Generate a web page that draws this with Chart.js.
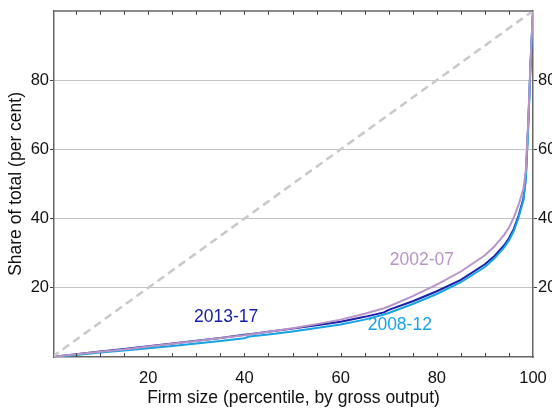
<!DOCTYPE html>
<html>
<head>
<meta charset="utf-8">
<script src="https://cdn.jsdelivr.net/npm/chart.js@4.4.1/dist/chart.umd.min.js"></script>
<style>
  html, body { margin: 0; padding: 0; overflow: hidden; background: #fff; }
  #wrap { width: 552px; height: 412px; overflow: hidden; }
  canvas { display: block; }
</style>
</head>
<body>
<div id="wrap"><canvas id="chart" width="568" height="412"></canvas></div>
<script>
// Data: share of total gross output held by firms up to each percentile
const percentiles = [0, 5, 10, 15, 20, 25, 30, 35, 40, 41, 45, 50, 55, 60, 65, 69, 70, 75, 80, 85, 90, 92, 94, 95, 96, 97, 98, 98.5, 99, 99.5, 100];
const share0207 = [0, 0.8, 1.5, 2.2, 3.0, 3.8, 4.6, 5.5, 6.3, 6.5, 7.3, 8.3, 9.5, 10.8, 12.5, 14.1, 14.6, 17.6, 20.9, 24.7, 29.4, 32.0, 35.3, 37.4, 40.3, 44.0, 48.5, 54, 68, 86, 100];
const share0812 = [0, 0.6, 1.3, 1.9, 2.5, 3.2, 3.9, 4.6, 5.4, 5.9, 6.5, 7.4, 8.4, 9.4, 10.8, 12.3, 12.7, 15.3, 18.2, 21.6, 26.0, 28.5, 31.7, 33.7, 36.4, 40.3, 45.3, 51, 66, 85, 100];
const share1317 = [0, 0.8, 1.6, 2.3, 3.1, 3.9, 4.7, 5.5, 6.4, 6.6, 7.3, 8.2, 9.2, 10.2, 11.6, 12.9, 13.6, 16.1, 19.0, 22.3, 26.8, 29.2, 32.3, 34.3, 37.0, 40.8, 45.8, 52, 67, 85, 100];
const equalX = [0, 100];
const equalY = [0, 100];

const seriesNames = ['2002-07', '2008-12', '2013-17'];
const xTickValues = [20, 40, 60, 80, 100];
const yTickValues = [20, 40, 60, 80];

const FONT = '"Liberation Sans", Arial, sans-serif';
const colours = { '2002-07': '#b795c7', '2008-12': '#17a3e3', '2013-17': '#1a21a6' };

function toPoints(xs, ys) {
    return xs.map((x, i) => ({ x: x, y: ys[i] }));
}

// where the series names sit, in data units
const lineLabels = [
    { text: '2002-07', x: 76.9, y: 28.0 },
    { text: '2008-12', x: 72.3, y: 9.1 },
    { text: '2013-17', x: 36.2, y: 11.6 }
];

const framePlugin = {
    id: 'frame',
    afterDatasetsDraw(chart) {
        const ctx = chart.ctx;
        const xs = chart.scales.x;
        const area = chart.chartArea;
        ctx.save();
        // top border
        ctx.strokeStyle = '#666';
        ctx.lineWidth = 1.5;
        ctx.beginPath();
        ctx.moveTo(area.left, area.top);
        ctx.lineTo(area.right, area.top);
        ctx.stroke();
        // inward minor ticks on top and bottom
        ctx.lineWidth = 1;
        ctx.strokeStyle = '#444';
        for (let v = 5; v < 100; v += 5) {
            const px = Math.round(xs.getPixelForValue(v)) + 0.5;
            ctx.beginPath();
            ctx.moveTo(px, area.top);
            ctx.lineTo(px, area.top + 4);
            ctx.moveTo(px, area.bottom);
            ctx.lineTo(px, area.bottom - 4);
            ctx.stroke();
        }
        // series labels
        ctx.font = '17.5px ' + FONT;
        ctx.textAlign = 'center';
        ctx.textBaseline = 'middle';
        lineLabels.forEach(l => {
            ctx.fillStyle = colours[l.text];
            ctx.fillText(l.text, xs.getPixelForValue(l.x), chart.scales.y.getPixelForValue(l.y));
        });
        ctx.restore();
    }
};

new Chart(document.getElementById('chart'), {
    type: 'line',
    data: {
        datasets: [
            {
                label: 'equality',
                data: toPoints(equalX, equalY),
                borderColor: '#c9c9c9',
                borderWidth: 2.5,
                borderDash: [8, 5],
                pointRadius: 0
            },
            {
                label: seriesNames[0],
                data: toPoints(percentiles, share0207),
                borderColor: colours['2002-07'],
                borderWidth: 2,
                pointRadius: 0
            },
            {
                label: seriesNames[1],
                data: toPoints(percentiles, share0812),
                borderColor: colours['2008-12'],
                borderWidth: 2,
                pointRadius: 0
            },
            {
                label: seriesNames[2],
                data: toPoints(percentiles, share1317),
                borderColor: colours['2013-17'],
                borderWidth: 2,
                pointRadius: 0
            }
        ]
    },
    options: {
        responsive: false,
        animation: false,
        layout: { padding: { top: 5, left: 0, right: 0, bottom: 0 } },
        plugins: { legend: { display: false }, tooltip: { enabled: false } },
        scales: {
            x: {
                type: 'linear',
                position: 'bottom',
                min: 0.4,
                max: 100,
                afterBuildTicks: s => { s.ticks = xTickValues.map(v => ({ value: v })); },
                afterFit: s => { s.height = 55; },
                grid: { display: false, drawTicks: false },
                border: { display: true, color: '#666', width: 1.5 },
                ticks: { color: '#111', padding: 12, font: { family: FONT, size: 16.5 }, maxRotation: 0 },
                title: {
                    display: true,
                    text: 'Firm size (percentile, by gross output)',
                    color: '#111',
                    font: { family: FONT, size: 17.5 },
                    padding: { top: 0, bottom: 3 }
                }
            },
            y: {
                type: 'linear',
                position: 'left',
                min: 0,
                max: 100,
                afterBuildTicks: s => { s.ticks = yTickValues.map(v => ({ value: v })); },
                afterFit: s => { s.width = 54; },
                grid: { color: '#c4c4c4', lineWidth: 1, tickColor: '#444', tickLength: 4, drawTicks: true },
                border: { display: true, color: '#666', width: 1.5 },
                ticks: { color: '#111', padding: 1, font: { family: FONT, size: 16.5 } },
                title: {
                    display: true,
                    text: 'Share of total (per cent)',
                    color: '#111',
                    font: { family: FONT, size: 17.5 },
                    padding: { top: 6, bottom: 0 }
                }
            },
            y2: {
                type: 'linear',
                position: 'right',
                min: 0,
                max: 100,
                afterBuildTicks: s => { s.ticks = yTickValues.map(v => ({ value: v })); },
                afterFit: s => { s.width = 35; },
                grid: { drawOnChartArea: false, tickColor: '#444', tickLength: 4 },
                border: { display: true, color: '#666', width: 1.5 },
                ticks: { color: '#111', padding: 1, font: { family: FONT, size: 16.5 } }
            }
        }
    },
    plugins: [framePlugin]
});
</script>
</body>
</html>
